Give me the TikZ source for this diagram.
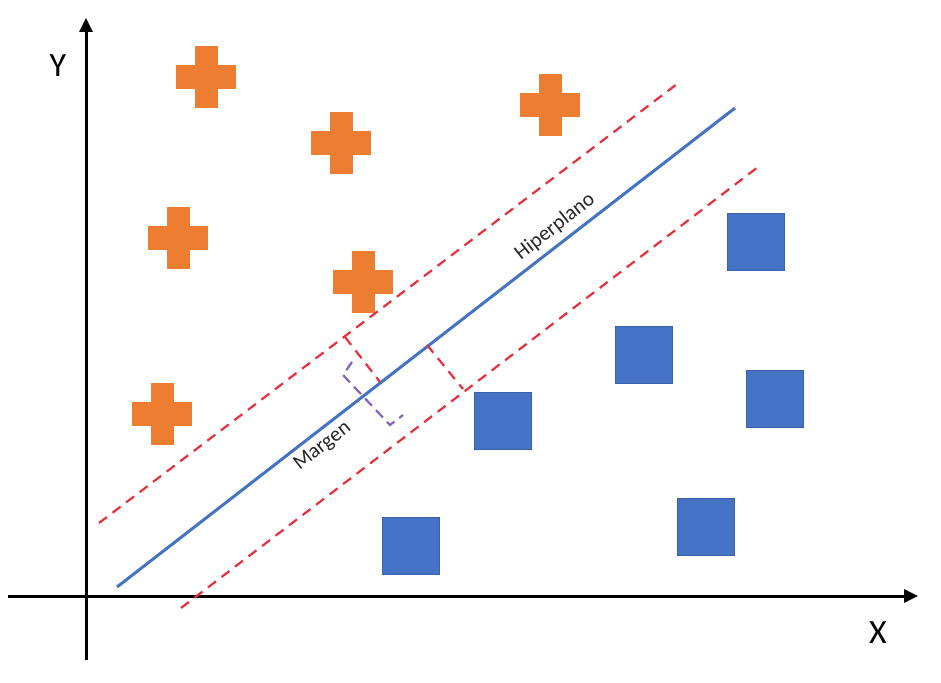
\documentclass[tikz,border=0pt]{standalone}
\usepackage{fontspec}
\setmainfont{Carlito}
\usepackage{xcolor}
\usepackage{tikz}
\usetikzlibrary{arrows.meta}
\definecolor{plorange}{HTML}{ED7D31}
\definecolor{sqblue}{HTML}{4472C4}
\definecolor{sqedge}{HTML}{3862AE}
\definecolor{mgred}{RGB}{232,48,58}
\definecolor{mgpurple}{RGB}{130,100,190}

\begin{document}
\begin{tikzpicture}[x=0.5pt,y=-0.5pt,
  sq/.style={draw=sqedge,line width=0.6pt,fill=sqblue,minimum size=28.5pt,inner sep=0pt},
  pl/.style={minimum width=30pt,minimum height=31pt,inner sep=0pt,path picture={
      \fill[plorange] ([xshift=-5.75pt]path picture bounding box.south) rectangle ([xshift=5.75pt]path picture bounding box.north);
      \fill[plorange] ([yshift=-6pt]path picture bounding box.west) rectangle ([yshift=6pt]path picture bounding box.east);}},
  ax/.style={line width=1.5pt,-{Triangle[length=7pt,width=6.5pt]}},
  mg/.style={mgred,line width=1.1pt,dash pattern=on 5pt off 3.5pt},
  hp/.style={sqblue,line width=1.5pt},
  lab/.style={font=\fontsize{17}{20}\selectfont},
  tag/.style={font=\fontsize{10.5}{12}\selectfont,text=black!85,inner sep=1pt}]
\useasboundingbox (0,0) rectangle (941,683);
% axes
\coordinate (xs) at (8,596);
\coordinate (xe) at (918,596);
\coordinate (ys) at (86,660);
\coordinate (ye) at (86,18);
\draw[ax] (xs) -- (xe);
\draw[ax] (ys) -- (ye);
\node[lab] (ylab) at (58,66) {Y};
\node[lab] (xlab) at (878,633) {X};
% class +
\node[pl] (p1) at (206,77)  {};
\node[pl] (p2) at (341,143) {};
\node[pl] (p3) at (550,105) {};
\node[pl] (p4) at (178,238) {};
\node[pl] (p5) at (363,282) {};
\node[pl] (p6) at (162,414) {};
% class square
\node[sq] (s1) at (756,242) {};
\node[sq] (s2) at (644,355) {};
\node[sq] (s3) at (503,421) {};
\node[sq] (s4) at (775,399) {};
\node[sq] (s5) at (411,546) {};
\node[sq] (s6) at (706,527) {};
% hyperplane and margins
\coordinate (h0) at (117,587);
\coordinate (h1) at (735,108);
\coordinate (u0) at (99,523);
\coordinate (u1) at (677,84);
\coordinate (l0) at (181,608);
\coordinate (l1) at (758,167);
\draw[hp] (h0) -- node[tag,pos=0.725,sloped,above=2pt] (hlab) {Hiperplano} (h1);
\draw[mg] (u0) -- (u1);
\draw[mg] (l0) -- (l1);
\coordinate (m1) at (345,337);
\coordinate (m2) at (380,382);
\coordinate (m3) at (427,345);
\coordinate (m4) at (463,389);
\draw[mg] (m1) -- (m2);
\draw[mg] (m3) -- (m4);
\coordinate (b1) at (352,362);
\coordinate (b2) at (343,375);
\coordinate (b3) at (390,425);
\coordinate (b4) at (403,415);
\draw[mgpurple,line width=1.1pt,dash pattern=on 5pt off 3pt] (b1) -- (b2) -- (b3) -- (b4);
\path (h0) -- node[tag,pos=0.318,sloped,below=2pt] (mlab) {Margen} (h1);
\end{tikzpicture}
\end{document}
